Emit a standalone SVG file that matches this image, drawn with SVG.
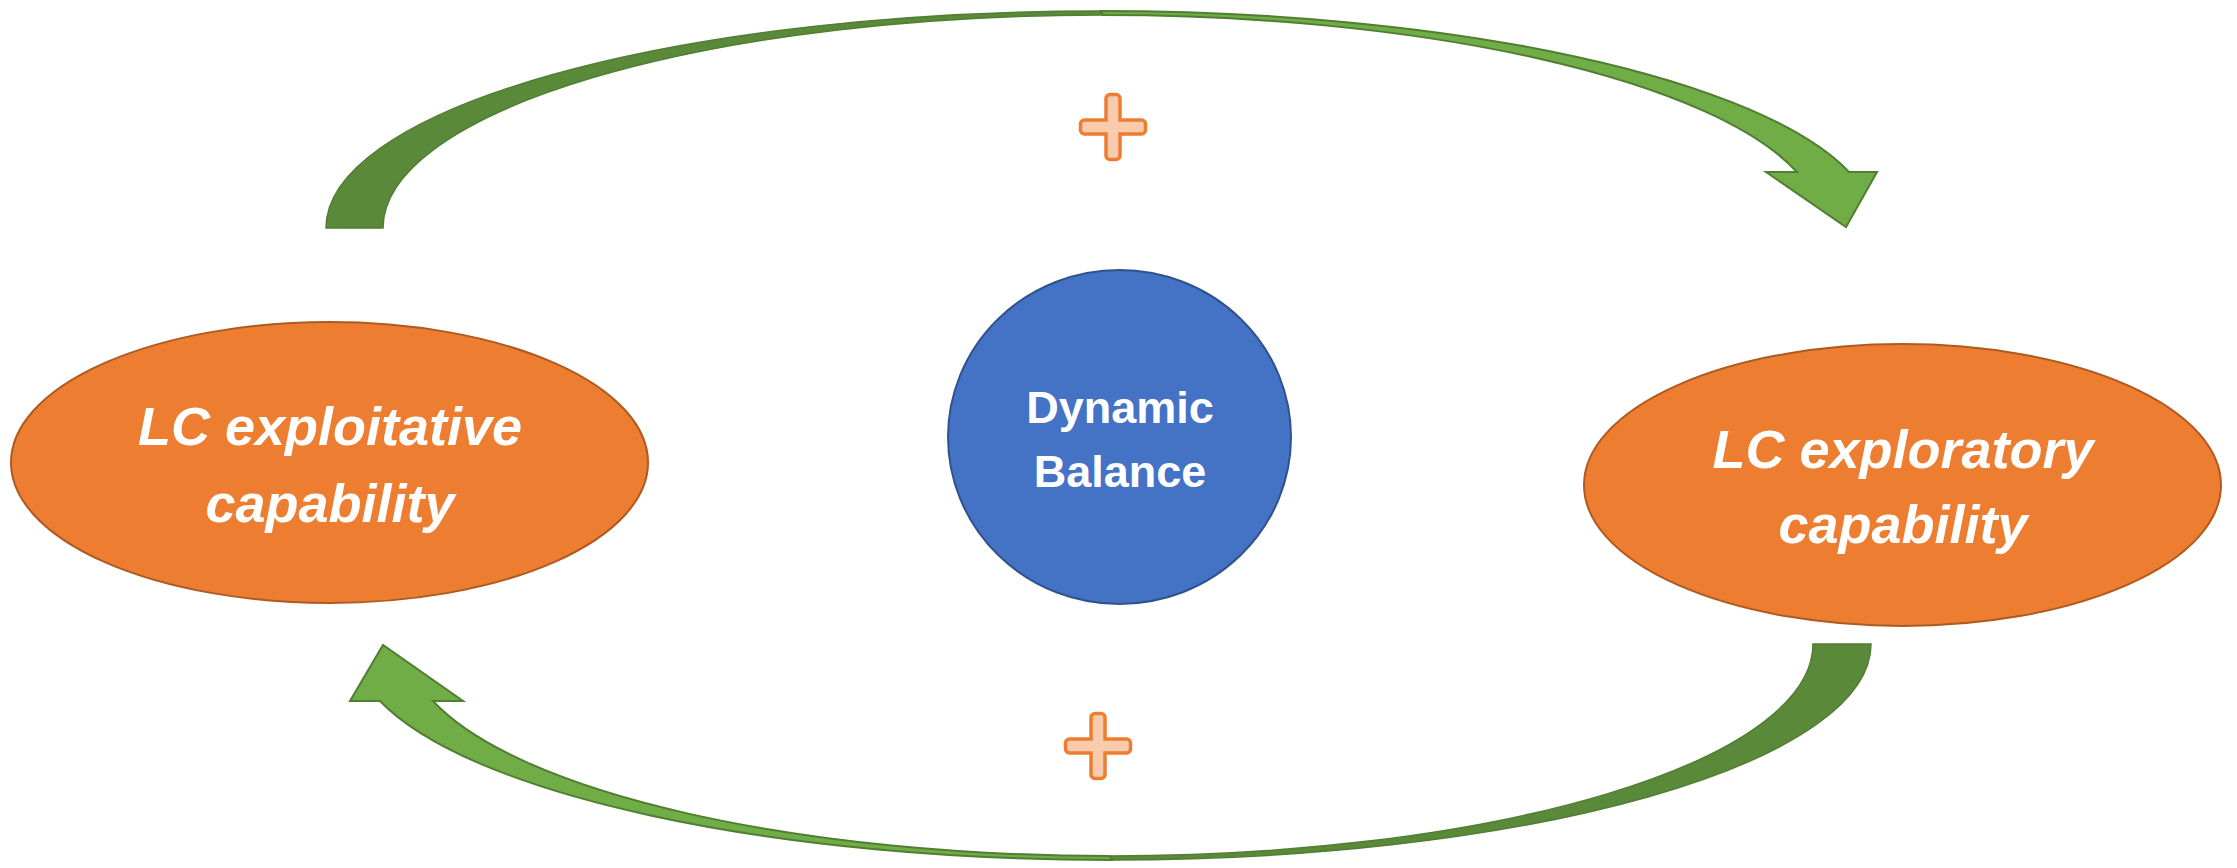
<svg xmlns="http://www.w3.org/2000/svg" xmlns:xlink="http://www.w3.org/1999/xlink" width="2237" height="868" viewBox="0 0 2237 868">
  <style>
    .lc { fill: #ED7D31; stroke: #AE5A21; stroke-width: 2; }
    .db { fill: #4472C4; stroke: #2F528F; stroke-width: 2; }
    .lcText { font-family: "Liberation Sans", Arial, sans-serif; font-weight: bold; font-style: italic; font-size: 54px; fill: #FFFFFF; text-anchor: middle; }
    .dbText { font-family: "Liberation Sans", Arial, sans-serif; font-weight: bold; font-size: 45px; fill: #FFFFFF; text-anchor: middle; }
    .back { fill: #5A8A39; stroke: #507E32; stroke-width: 1.5; stroke-linejoin: miter; }
    .front { fill: #70AD47; stroke: #507E32; stroke-width: 2; stroke-linejoin: miter; }
    .plus { fill: #F8CBAD; stroke: #ED7D31; stroke-width: 3.5; }
  </style>
  <defs>
    <path id="plusShape" d="M -7 -28.5 A 4 4 0 0 1 -3 -32.5 H 3 A 4 4 0 0 1 7 -28.5 V -7 H 28.5 A 4 4 0 0 1 32.5 -3 V 3 A 4 4 0 0 1 28.5 7 H 7 V 28.5 A 4 4 0 0 1 3 32.5 H -3 A 4 4 0 0 1 -7 28.5 V 7 H -28.5 A 4 4 0 0 1 -32.5 3 V -3 A 4 4 0 0 1 -28.5 -7 H -7 Z"/>
  </defs>

  <rect x="0" y="0" width="2237" height="868" fill="#FFFFFF"/>

  <g id="connectors">
    <g id="arrow-top">
      <path class="back" d="M 326 228 A 774.7 217 0 0 1 1100.7 11 L 1102.6 15 A 719.6 213 0 0 0 383 228 Z"/>
      <path class="front" d="M 1100.7 11 A 774.7 217 0 0 1 1849 172 L 1877 172 L 1846 227 L 1766 172 L 1797 172 A 719.6 213 0 0 0 1102.6 15 Z"/>
    </g>
    <g id="arrow-bottom">
      <path class="back" d="M 1871 644 A 759 216 0 0 1 1112 860 L 1110 856 A 703 212 0 0 0 1813 644 Z"/>
      <path class="front" d="M 1112 860 A 759 216 0 0 1 380 701 L 350 701 L 383 645 L 463 701 L 433 701 A 703 212 0 0 0 1110 856 Z"/>
    </g>
    <use id="plus-top" xlink:href="#plusShape" href="#plusShape" class="plus" transform="translate(1113 127)"/>
    <use id="plus-bottom" xlink:href="#plusShape" href="#plusShape" class="plus" transform="translate(1098 746)"/>
  </g>

  <g id="node-exploitative">
    <ellipse class="lc" cx="329.5" cy="462.5" rx="318.5" ry="140.5"/>
    <text class="lcText" x="330" y="445">LC exploitative</text>
    <text class="lcText" x="330" y="522">capability</text>
  </g>

  <g id="node-dynamic-balance">
    <ellipse class="db" cx="1119.5" cy="437" rx="171.5" ry="167"/>
    <text class="dbText" x="1120" y="423">Dynamic</text>
    <text class="dbText" x="1120" y="487">Balance</text>
  </g>

  <g id="node-exploratory">
    <ellipse class="lc" cx="1902.5" cy="485" rx="318.5" ry="141"/>
    <text class="lcText" x="1903" y="468">LC exploratory</text>
    <text class="lcText" x="1903" y="543">capability</text>
  </g>
</svg>
